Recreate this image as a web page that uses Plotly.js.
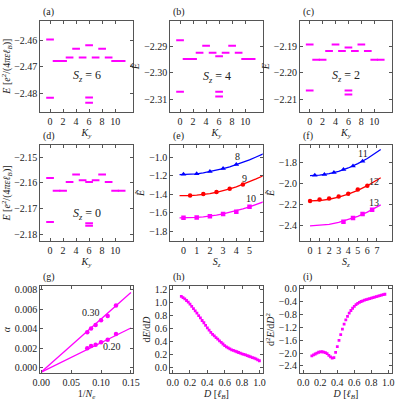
<!DOCTYPE html>
<html>
<head>
<meta charset="utf-8">
<script src="https://cdn.plot.ly/plotly-3.0.1.min.js"></script>
<style>
  html, body { margin: 0; padding: 0; background: #fff; }
  #plot { width: 399px; height: 403px; }
</style>
</head>
<body>
<div id="plot"></div>
<script>
// panels (a)-(d): energy levels vs K_y
const kyPts = [0, 0, 1, 2, 3, 4, 5, 6, 6, 6, 7, 8, 9, 10, 11];
const eSz6 = [-2.4597, -2.4818, -2.4679, -2.4679, -2.4665, -2.4632, -2.4665, -2.4619, -2.4817, -2.4837, -2.4665, -2.4632, -2.4665, -2.4679, -2.4679];
const eSz4 = [-2.2878, -2.3070, -2.2948, -2.2948, -2.2925, -2.2899, -2.2925, -2.2938, -2.3070, -2.3087, -2.2925, -2.2899, -2.2925, -2.2948, -2.2948];
const eSz2 = [-2.1894, -2.2068, -2.1951, -2.1951, -2.1918, -2.1894, -2.1918, -2.1905, -2.2068, -2.2083, -2.1918, -2.1894, -2.1918, -2.1951, -2.1951];
const eSz0 = [-2.1581, -2.1751, -2.1630, -2.1630, -2.1596, -2.1567, -2.1590, -2.1596, -2.1756, -2.1766, -2.1590, -2.1567, -2.1596, -2.1630, -2.1630];

// panel (e): N = 8, 9, 10
const szE8 = [0, 1, 2, 3, 4];
const eE8 = [-1.183, -1.176, -1.153, -1.120, -1.075];
const szE9 = [0.5, 1.5, 2.5, 3.5, 4.5];
const eE9 = [-1.411, -1.396, -1.374, -1.340, -1.292];
const szE10 = [0, 1, 2, 3, 4, 5];
const eE10 = [-1.654, -1.650, -1.636, -1.613, -1.587, -1.535];
const fitSzE = [-0.3, 0, 0.5, 1, 1.5, 2, 2.5, 3, 3.5, 4, 4.5, 5, 5.5, 6.1];
const fitE8 = [-1.185, -1.185, -1.183, -1.178, -1.168, -1.155, -1.140, -1.122, -1.101, -1.078, -1.053, -1.025, -0.995, -0.958];
const fitE9 = [-1.414, -1.415, -1.413, -1.409, -1.402, -1.392, -1.377, -1.361, -1.341, -1.318, -1.292, -1.263, -1.232, -1.195];
const fitE10 = [-1.655, -1.655, -1.654, -1.650, -1.644, -1.636, -1.625, -1.612, -1.596, -1.578, -1.558, -1.535, -1.510, -1.478];

// panel (f): N = 11, 12, 13
const szF11 = [0.5, 1.5, 2.5, 3.5, 4.5, 5.5];
const eF11 = [-1.923, -1.916, -1.897, -1.868, -1.835, -1.790];
const szF12 = [0, 1, 2, 3, 4, 5, 6];
const eF12 = [-2.165, -2.152, -2.142, -2.123, -2.097, -2.058, -2.022];
const szF13 = [3.5, 4.5, 5.5, 6.5];
const eF13 = [-2.361, -2.325, -2.289, -2.247];
const fitSzF = [0, 1, 2, 3, 4, 5, 6, 7, 7.4];
const fitF11 = [-1.926, -1.921, -1.908, -1.885, -1.854, -1.813, -1.764, -1.705, -1.680];
const fitF12 = [-2.165, -2.161, -2.149, -2.129, -2.101, -2.065, -2.021, -1.969, -1.946];
const fitF13 = [-2.400, -2.396, -2.386, -2.367, -2.342, -2.310, -2.270, -2.223, -2.202];

// panel (g): alpha vs 1/Ne
const invNe = [0.0769, 0.0833, 0.0909, 0.1, 0.1111, 0.125];
const alpha30 = [0.00363, 0.00403, 0.00437, 0.00487, 0.00531, 0.00638];
const alpha20 = [0.00198, 0.00222, 0.00235, 0.00259, 0.00286, 0.00346];
const lineX = [0, 0.15];
const line30 = [-0.00047, 0.00773];
const line20 = [-0.00047, 0.00407];

// panel (h): dE/dD
const dH = [0.10, 0.12, 0.14, 0.16, 0.18, 0.20, 0.22, 0.24, 0.26, 0.28, 0.30, 0.32, 0.34, 0.36, 0.38, 0.40, 0.42, 0.44, 0.46, 0.48, 0.50, 0.52, 0.54, 0.56, 0.58, 0.60, 0.62, 0.64, 0.66, 0.68, 0.70, 0.72, 0.74, 0.76, 0.78, 0.80, 0.82, 0.84, 0.86, 0.88, 0.90, 0.92, 0.94, 0.96, 0.98, 1.00];
const dEdD = [1.10, 1.08, 1.06, 1.035, 1.01, 0.98, 0.945, 0.91, 0.875, 0.84, 0.80, 0.765, 0.725, 0.69, 0.65, 0.61, 0.575, 0.54, 0.51, 0.485, 0.46, 0.435, 0.41, 0.385, 0.36, 0.335, 0.315, 0.30, 0.285, 0.27, 0.26, 0.25, 0.24, 0.228, 0.218, 0.208, 0.198, 0.19, 0.18, 0.17, 0.16, 0.15, 0.14, 0.128, 0.114, 0.10];

// panel (i): d2E/dD2
const dI = [0.10, 0.12, 0.14, 0.16, 0.18, 0.20, 0.22, 0.24, 0.26, 0.28, 0.30, 0.32, 0.34, 0.36, 0.38, 0.40, 0.42, 0.44, 0.46, 0.48, 0.50, 0.52, 0.54, 0.56, 0.58, 0.60, 0.62, 0.64, 0.66, 0.68, 0.70, 0.72, 0.74, 0.76, 0.78, 0.80, 0.82, 0.84, 0.86, 0.88, 0.90, 0.92, 0.94, 0.96];
const d2EdD2 = [-2.09, -2.06, -2.03, -2.00, -1.975, -1.965, -1.96, -1.97, -1.99, -2.02, -2.07, -2.12, -2.16, -2.14, -1.98, -1.80, -1.61, -1.43, -1.26, -1.10, -0.97, -0.86, -0.76, -0.68, -0.61, -0.55, -0.50, -0.46, -0.43, -0.40, -0.38, -0.36, -0.34, -0.325, -0.31, -0.295, -0.28, -0.265, -0.25, -0.235, -0.22, -0.205, -0.19, -0.175];

// tick labels
const kyTicks = [0, 2, 4, 6, 8, 10];
const szTicksE = [0, 1, 2, 3, 4, 5];
const szTicksF = [0, 1, 2, 3, 4, 5, 6, 7];
const invNeTicks = [0, 0.05, 0.10, 0.15];
const dTicks = [0, 0.2, 0.4, 0.6, 0.8, 1.0];

const MAG = '#ff00ff', RED = '#ff0000', BLUE = '#0000ff';
const FONT = 'Liberation Serif';

const cols = [[0.101, 0.3326], [0.4268, 0.6584], [0.7519, 0.9817]];
const rows = [[0.7228, 0.949], [0.402, 0.6402], [0.0744, 0.2903]];

const layout = {
  width: 399, height: 403,
  margin: {l: 0, r: 0, t: 0, b: 0},
  paper_bgcolor: '#fff', plot_bgcolor: '#fff',
  showlegend: false,
  font: {family: FONT, size: 10, color: '#222'},
  annotations: []
};

function axisBase(extra) {
  return Object.assign({
    showline: true, mirror: 'ticks', linecolor: '#555', linewidth: 1,
    ticks: 'inside', ticklen: 3, tickcolor: '#555', tickwidth: 1,
    showgrid: false, zeroline: false, tickmode: 'array',
    ticklabeloverflow: 'allow',
    tickfont: {family: FONT, size: 10, color: '#222'}
  }, extra);
}

const panels = [
  {lab: '(a)', xr: [-1.5, 12.7], yr: [-2.4871, -2.4525], xt: '<i>K<sub>y</sub></i>', yt: '<i>E</i> [<i>e</i><sup>2</sup>/(4<i>πεℓ<sub>B</sub></i>)]', xv: kyTicks, yv: [-2.48, -2.47, -2.46], yf: '.2f'},
  {lab: '(b)', xr: [-1.5, 12.7], yr: [-2.3144, -2.2805], xt: '<i>K<sub>y</sub></i>', yt: '<i>Ẽ</i>', xv: kyTicks, yv: [-2.31, -2.30, -2.29], yf: '.2f'},
  {lab: '(c)', xr: [-1.5, 12.7], yr: [-2.2148, -2.1803], xt: '<i>K<sub>y</sub></i>', yt: '<i>E</i>', xv: kyTicks, yv: [-2.21, -2.20, -2.19], yf: '.2f'},
  {lab: '(d)', xr: [-1.5, 12.7], yr: [-2.1825, -2.1453], xt: '<i>K<sub>y</sub></i>', yt: '<i>E</i> [<i>e</i><sup>2</sup>/(4<i>πεℓ<sub>B</sub></i>)]', xv: kyTicks, yv: [-2.18, -2.17, -2.16, -2.15], yf: '.2f'},
  {lab: '(e)', xr: [-1, 6], yr: [-1.905, -0.865], xt: '<i>S<sub>z</sub></i>', yt: '<i>Ẽ</i>', xv: szTicksE, yv: [-1.8, -1.6, -1.4, -1.2, -1.0], yf: '.1f'},
  {lab: '(f)', xr: [-1.05, 8.55], yr: [-2.543, -1.637], xt: '<i>S<sub>z</sub></i>', yt: '<i>Ẽ</i>', xv: szTicksF, yv: [-2.4, -2.2, -2.0, -1.8], yf: '.1f'},
  {lab: '(g)', xr: [-0.0017, 0.153], yr: [-0.00057, 0.0084], xt: '1/<i>N<sub>e</sub></i>', yt: '<i>α</i>', xv: invNeTicks, xf: '.2f', yv: [0, 0.002, 0.004, 0.006, 0.008], yf: '.3f'},
  {lab: '(h)', xr: [-0.027, 1.038], yr: [-0.09, 1.26], xt: '<i>D</i> [<i>ℓ<sub>B</sub></i>]', yt: 'd<i>E</i>/d<i>D</i>', xv: dTicks, xf: '.1f', yv: [0, 0.2, 0.4, 0.6, 0.8, 1.0, 1.2], yf: '.1f'},
  {lab: '(i)', xr: [-0.039, 1.04], yr: [-2.62, 0.08], xt: '<i>D</i> [<i>ℓ<sub>B</sub></i>]', yt: 'd<sup>2</sup><i>E</i>/d<i>D</i><sup>2</sup>', xv: dTicks, xf: '.1f', yv: [-2.4, -2.0, -1.6, -1.2, -0.8, -0.4, 0.0], yf: '.1f'}
];

panels.forEach((p, i) => {
  const n = i + 1;
  const col = cols[i % 3], row = rows[Math.floor(i / 3)];
  const xa = axisBase({
    domain: col, range: p.xr, anchor: 'y' + n, tickvals: p.xv,
    title: {text: p.xt, font: {family: FONT, size: 10}, standoff: 1}
  });
  if (p.xf) xa.tickformat = p.xf;
  const ya = axisBase({
    domain: row, range: p.yr, anchor: 'x' + n,
    tickvals: p.yv, tickformat: p.yf,
    title: {text: p.yt, font: {family: FONT, size: 10}, standoff: 2}
  });
  layout['xaxis' + (n === 1 ? '' : n)] = xa;
  layout['yaxis' + (n === 1 ? '' : n)] = ya;
  layout.annotations.push({
    text: p.lab, xref: 'x' + n + ' domain', yref: 'y' + n + ' domain',
    x: 0, y: 1, xanchor: 'left', yanchor: 'bottom', yshift: 1, xshift: 1,
    showarrow: false, font: {family: FONT, size: 10, color: '#222'}
  });
});

function ax(n) { return {xaxis: 'x' + n, yaxis: 'y' + n}; }
function dashes(n, y) {
  return Object.assign({
    x: kyPts, y: y, type: 'scatter', mode: 'markers',
    marker: {symbol: 'line-ew', size: 5.5, color: MAG, line: {color: MAG, width: 2}}
  }, ax(n));
}
function fit(n, x, y, c) {
  return Object.assign({x: x, y: y, type: 'scatter', mode: 'lines', line: {color: c, width: 1.3}}, ax(n));
}
function pts(n, x, y, c, sym, sz) {
  return Object.assign({x: x, y: y, type: 'scatter', mode: 'markers', marker: {color: c, symbol: sym, size: sz}}, ax(n));
}

const data = [
  dashes(1, eSz6), dashes(2, eSz4), dashes(3, eSz2), dashes(4, eSz0),
  fit(5, fitSzE, fitE8, BLUE), fit(5, fitSzE, fitE9, RED), fit(5, fitSzE, fitE10, MAG),
  pts(5, szE8, eE8, BLUE, 'triangle-up', 5), pts(5, szE9, eE9, RED, 'circle', 4.5), pts(5, szE10, eE10, MAG, 'square', 4.5),
  fit(6, fitSzF, fitF11, BLUE), fit(6, fitSzF, fitF12, RED), fit(6, fitSzF, fitF13, MAG),
  pts(6, szF11, eF11, BLUE, 'triangle-up', 5), pts(6, szF12, eF12, RED, 'circle', 4.5), pts(6, szF13, eF13, MAG, 'square', 4.5),
  fit(7, lineX, line30, MAG), fit(7, lineX, line20, MAG),
  pts(7, invNe, alpha30, MAG, 'circle', 4.5), pts(7, invNe, alpha20, MAG, 'circle', 4.5),
  pts(8, dH, dEdD, MAG, 'square', 2.8),
  pts(9, dI, d2EdD2, MAG, 'square', 2.8)
];

// in-panel text
const notes = [
  [1, 5.7, -2.4735, '<i>S<sub>z</sub></i> = 6', 12],
  [2, 5.7, -2.3014, '<i>S<sub>z</sub></i> = 4', 12],
  [3, 5.7, -2.2012, '<i>S<sub>z</sub></i> = 2', 12],
  [4, 5.7, -2.1720, '<i>S<sub>z</sub></i> = 0', 12],
  [5, 4.1, -0.99, '8', 10], [5, 4.6, -1.23, '9', 10], [5, 5.1, -1.44, '10', 10],
  [6, 5.5, -1.72, '11', 10], [6, 6.7, -1.98, '12', 10], [6, 6.7, -2.18, '13', 10],
  [7, 0.083, 0.0057, '0.30', 10], [7, 0.119, 0.0022, '0.20', 10]
];
notes.forEach(a => {
  layout.annotations.push({
    xref: 'x' + a[0], yref: 'y' + a[0], x: a[1], y: a[2], text: a[3],
    showarrow: false, font: {family: FONT, size: a[4], color: '#222'}
  });
});

Plotly.newPlot('plot', data, layout, {displayModeBar: false, staticPlot: true});
</script>
</body>
</html>
